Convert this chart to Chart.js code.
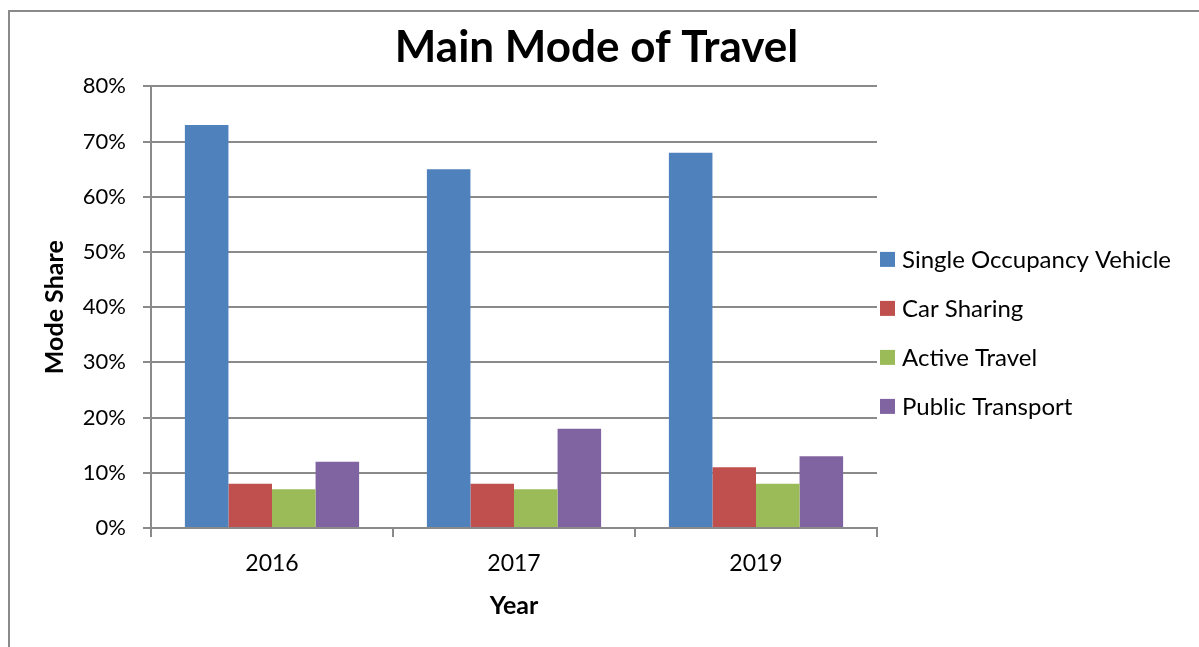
<!DOCTYPE html>
<html>
<head>
<meta charset="utf-8">
<title>Main Mode of Travel</title>
<script src="https://cdn.jsdelivr.net/npm/chart.js@4.4.1/dist/chart.umd.min.js"></script>
<style>
  html, body { margin: 0; padding: 0; background: #fff; overflow: hidden; }
  canvas { display: block; }
</style>
</head>
<body>
<canvas id="chart" width="1199" height="647"></canvas>
<script>
const years = ['2016', '2017', '2019'];
const seriesNames = ['Single Occupancy Vehicle', 'Car Sharing', 'Active Travel', 'Public Transport'];
const singleOccupancy = [73, 65, 68];
const carSharing = [8, 8, 11];
const activeTravel = [7, 7, 8];
const publicTransport = [12, 18, 13];
const yTicks = [0, 10, 20, 30, 40, 50, 60, 70, 80];

const seriesColors = ['#4F81BD', '#C0504D', '#9BBB59', '#8064A2'];
const gridColor = '#8a8a8a';
const fontFamily = 'Lato, "Open Sans", sans-serif';

Chart.defaults.color = '#000';
Chart.defaults.font.family = fontFamily;

// grey frame around the chart (only top and left edges fall inside the canvas)
const frame = {
    id: 'frame',
    beforeDraw(chart) {
        const ctx = chart.ctx;
        ctx.save();
        ctx.fillStyle = '#fff';
        ctx.fillRect(0, 0, chart.width, chart.height);
        ctx.strokeStyle = gridColor;
        ctx.lineWidth = 2;
        ctx.beginPath();
        ctx.moveTo(9, chart.height);
        ctx.lineTo(9, 11);
        ctx.lineTo(chart.width, 11);
        ctx.stroke();
        ctx.restore();
    }
};

// legend as a layout box on the right, items stacked like the spreadsheet legend
const sideLegend = {
    id: 'sideLegend',
    beforeInit(chart) {
        const box = {
            position: 'right',
            fullSize: false,
            weight: 0,
            options: {},
            isHorizontal() { return false; },
            getPadding() { return { top: 0, left: 0, right: 0, bottom: 0 }; },
            update(maxWidth, maxHeight) {
                this.width = 308;
                this.height = maxHeight;
            },
            draw() {
                const ctx = chart.ctx;
                ctx.save();
                ctx.font = '24px ' + fontFamily;
                ctx.textBaseline = 'middle';
                ctx.textAlign = 'left';
                chart.data.datasets.forEach((ds, i) => {
                    const y = this.top + 173 + i * 49;
                    ctx.fillStyle = ds.backgroundColor;
                    ctx.fillRect(this.left + 3, y - 7.5, 15, 15);
                    ctx.fillStyle = '#000';
                    ctx.fillText(ds.label, this.left + 25, y + 1);
                });
                ctx.restore();
            }
        };
        Chart.layouts.addBox(chart, box);
    }
};

const values = [singleOccupancy, carSharing, activeTravel, publicTransport];

new Chart(document.getElementById('chart'), {
    type: 'bar',
    data: {
        labels: years,
        datasets: seriesNames.map((name, i) => ({
            label: name,
            data: values[i],
            backgroundColor: seriesColors[i],
            borderWidth: 0,
            categoryPercentage: 0.72,
            barPercentage: 1
        }))
    },
    options: {
        responsive: false,
        animation: false,
        layout: {
            padding: { top: 10, left: 8, right: 14, bottom: 10 }
        },
        scales: {
            x: {
                grid: {
                    display: true,
                    drawOnChartArea: false,
                    offset: true,
                    color: gridColor,
                    lineWidth: 2,
                    tickLength: 9
                },
                border: { color: gridColor, width: 2 },
                ticks: {
                    font: { size: 23 },
                    padding: 13
                },
                title: {
                    display: true,
                    text: 'Year',
                    font: { size: 25, weight: 'bold' },
                    padding: { top: 0, bottom: 16 }
                },
                afterFit(scale) { scale.height = 109; }
            },
            y: {
                min: 0,
                max: 80,
                afterBuildTicks(scale) {
                    scale.ticks = yTicks.map(v => ({ value: v }));
                },
                grid: {
                    color: gridColor,
                    lineWidth: 2,
                    tickLength: 8
                },
                border: { color: gridColor, width: 2 },
                ticks: {
                    font: { size: 22 },
                    padding: 17,
                    callback: v => v + '%'
                },
                title: {
                    display: true,
                    text: 'Mode Share',
                    font: { size: 25, weight: 'bold' },
                    padding: { top: 32, bottom: 0 }
                },
                afterFit(scale) { scale.width = 143; }
            }
        },
        plugins: {
            legend: { display: false },
            tooltip: { enabled: false },
            title: {
                display: true,
                text: 'Main Mode of Travel',
                font: { size: 44, weight: 'bold' },
                color: '#000',
                padding: { top: 11, bottom: 12.6 }
            }
        }
    },
    plugins: [frame, sideLegend]
});
</script>
</body>
</html>
